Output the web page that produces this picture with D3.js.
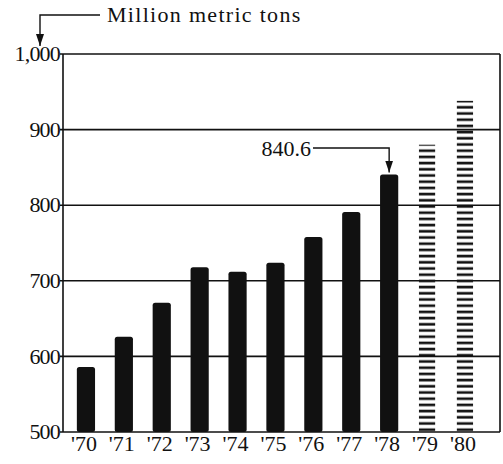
<!DOCTYPE html>
<html>
<head>
<meta charset="utf-8">
<script src="https://cdn.jsdelivr.net/npm/d3@7"></script>
<style>
  body { margin: 0; background: #fff; }
  text { font-family: "Liberation Serif", serif; fill: #111; }
</style>
</head>
<body>
<div class="container"></div>
<script>
var years = ["'70", "'71", "'72", "'73", "'74", "'75", "'76", "'77", "'78", "'79", "'80"];
var values = [586, 626, 671, 718, 712, 724, 758, 791, 840.6, 880, 938];
var projected = [false, false, false, false, false, false, false, false, false, true, true];
var yTicks = [500, 600, 700, 800, 900, 1000];
var unitLabel = "Million metric tons";
var calloutLabel = "840.6";

var width = 503, height = 464;
var plot = { left: 63, right: 500, top: 54, bottom: 432 };

var svg = d3.select(".container")
  .append("svg")
    .attr("width", width)
    .attr("height", height);

var defs = svg.append("defs");
// arrowhead drawn along +x so orient=auto points it down the line
defs.append("marker")
    .attr("id", "arrow")
    .attr("viewBox", "0 0 12 8")
    .attr("refX", 12).attr("refY", 4)
    .attr("markerWidth", 12).attr("markerHeight", 8)
    .attr("markerUnits", "userSpaceOnUse")
    .attr("orient", "auto")
  .append("path")
    .attr("d", "M0,0L12,4L0,8Z")
    .attr("fill", "#111");

// horizontal dashes for the estimated years
var pat = defs.append("pattern")
    .attr("id", "dashes")
    .attr("patternUnits", "userSpaceOnUse")
    .attr("width", 40).attr("height", 6.2);
pat.append("rect")
    .attr("x", 0).attr("y", 0.6)
    .attr("width", 40).attr("height", 2.6)
    .attr("fill", "#111");

var x = d3.scaleBand()
    .domain(years)
    .range([67, 67 + 37.9 * years.length])
    .paddingInner(0.52)
    .paddingOuter(0.26);

var y = d3.scaleLinear()
    .domain([500, 1000])
    .range([plot.bottom, plot.top]);

// gridlines
svg.append("g")
    .attr("stroke", "#111")
    .attr("stroke-width", 1.6)
  .selectAll("line")
  .data(yTicks)
  .enter().append("line")
    .attr("x1", plot.left - 3)
    .attr("x2", plot.right)
    .attr("y1", function(d) { return y(d); })
    .attr("y2", function(d) { return y(d); });

// frame sides
svg.append("path")
    .attr("fill", "none")
    .attr("stroke", "#111")
    .attr("stroke-width", 1.6)
    .attr("d", "M" + plot.left + "," + y(1000) + "V" + y(500)
      + "M" + plot.right + "," + y(1000) + "V" + y(500));

// y tick labels
svg.append("g")
  .selectAll("text")
  .data(yTicks)
  .enter().append("text")
    .attr("x", plot.left - 3)
    .attr("y", function(d) { return y(d); })
    .attr("dy", "0.33em")
    .attr("text-anchor", "end")
    .style("font-size", "22px")
    .style("letter-spacing", "-0.8px")
    .text(function(d) { return d3.format(",")(d); });

// bars
var bw = x.bandwidth();
svg.append("g")
  .selectAll("rect")
  .data(years)
  .enter().append("rect")
    .attr("x", function(d, i) { return projected[i] ? x(d) + 1 : x(d); })
    .attr("width", function(d, i) { return projected[i] ? bw - 2 : bw; })
    .attr("y", function(d, i) { return y(values[i]); })
    .attr("height", function(d, i) { return y(500) - y(values[i]); })
    .attr("rx", function(d, i) { return projected[i] ? 0 : 2.5; })
    .attr("fill", function(d, i) { return projected[i] ? "url(#dashes)" : "#111"; });

// x labels
svg.append("g")
  .selectAll("text")
  .data(years)
  .enter().append("text")
    .attr("x", function(d) { return x(d) + bw / 2 - 2; })
    .attr("y", 451)
    .attr("text-anchor", "middle")
    .style("font-size", "22px")
    .text(function(d) { return d; });

// unit label with elbow arrow
svg.append("path")
    .attr("fill", "none")
    .attr("stroke", "#111")
    .attr("stroke-width", 1.4)
    .attr("marker-end", "url(#arrow)")
    .attr("d", "M100,15H40V46");
svg.append("text")
    .attr("x", 107)
    .attr("y", 22)
    .style("font-size", "22px")
    .style("letter-spacing", "1.3px")
    .text(unitLabel);

// callout for 1978
var cx = x("'78") + bw / 2;
svg.append("path")
    .attr("fill", "none")
    .attr("stroke", "#111")
    .attr("stroke-width", 1.4)
    .attr("marker-end", "url(#arrow)")
    .attr("d", "M313,148H" + cx + "V" + (y(840.6) - 2));
svg.append("text")
    .attr("x", 311)
    .attr("y", 156)
    .attr("text-anchor", "end")
    .style("font-size", "22px")
    .text(calloutLabel);
</script>
</body>
</html>
